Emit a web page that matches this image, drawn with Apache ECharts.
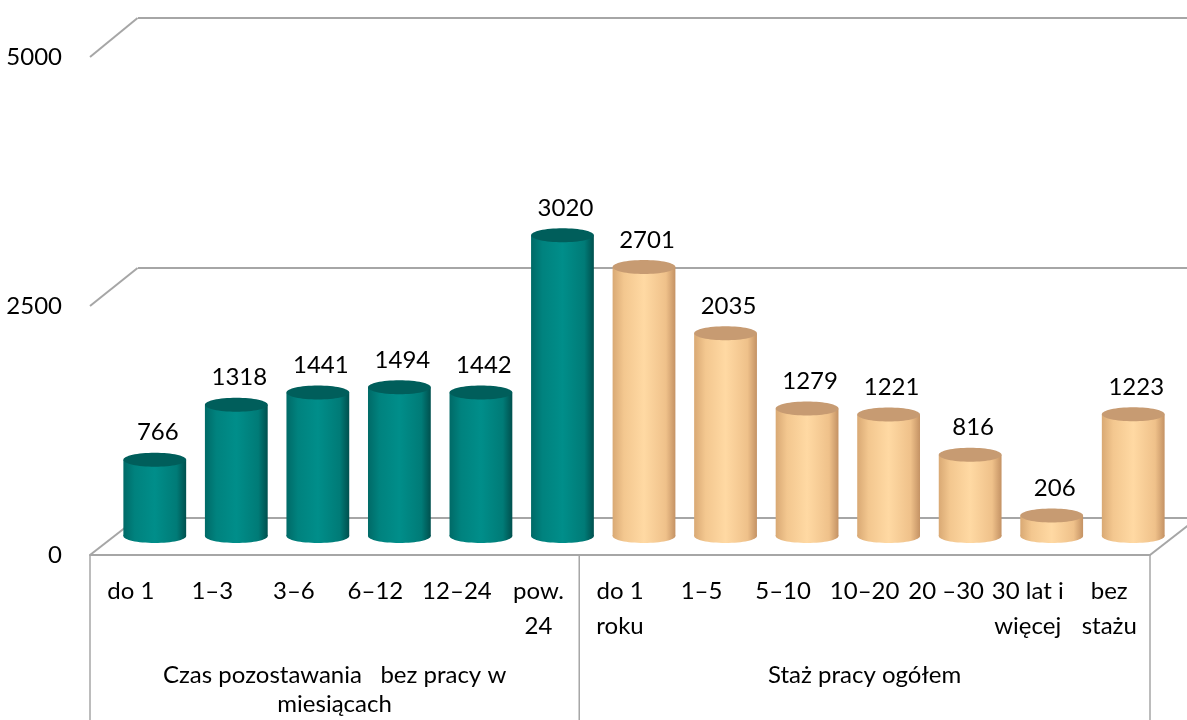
<!DOCTYPE html>
<html>
<head>
<meta charset="utf-8">
<script src="https://cdn.jsdelivr.net/npm/echarts@6/dist/echarts.min.js"></script>
<style>
  html, body { margin: 0; padding: 0; background: #fff; }
  #chart { width: 1187px; height: 720px; }
</style>
</head>
<body>
<div id="chart"></div>
<script>
// kategorie i wartosci
var waitCats = ['do 1', '1–3', '3–6', '6–12', '12–24', 'pow.\n24'];
var waitValues = [766, 1318, 1441, 1494, 1442, 3020];
var expCats = ['do 1\nroku', '1–5', '5–10', '10–20', '20 –30', '30 lat i\nwięcej', 'bez\nstażu'];
var expValues = [2701, 2035, 1279, 1221, 816, 206, 1223];
var groupNames = ['Czas pozostawania   bez pracy w\nmiesiącach', 'Staż pracy ogółem'];
var yTicks = [0, 2500, 5000];

var allCats = waitCats.concat(expCats);
var FONT = 'Lato, "Noto Sans", sans-serif';
var FS = 24;
var LINE = '#a6a6a6';

var teal = {
	stops: [
		{ offset: 0, color: '#006a67' },
		{ offset: 0.18, color: '#00827e' },
		{ offset: 0.5, color: '#008e8a' },
		{ offset: 0.85, color: '#007b77' },
		{ offset: 1, color: '#00504e' }
	],
	top: '#005e5b'
};
var peach = {
	stops: [
		{ offset: 0, color: '#d9a974' },
		{ offset: 0.18, color: '#f3c78f' },
		{ offset: 0.5, color: '#ffd9a3' },
		{ offset: 0.85, color: '#efc18a' },
		{ offset: 1, color: '#c49264' }
	],
	top: '#c79b72'
};

// walec rysowany przez skale osi
function cylinder(colors) {
	return function (params, api) {
		var x = api.value(0), v = api.value(1);
		var top = api.coord([x, v]);
		var base = api.coord([x, 0]);
		var bw = api.size([1, 0])[0] * 0.77;
		var rx = bw / 2, ry = 7;
		var grad = new echarts.graphic.LinearGradient(0, 0, 1, 0, colors.stops);
		return {
			type: 'group',
			children: [
				{ type: 'ellipse', shape: { cx: base[0], cy: base[1], rx: rx, ry: ry }, style: { fill: grad } },
				{ type: 'rect', shape: { x: top[0] - rx, y: top[1], width: bw, height: base[1] - top[1] }, style: { fill: grad } },
				{ type: 'ellipse', shape: { cx: top[0], cy: top[1], rx: rx, ry: ry }, style: { fill: colors.top } },
				{
					type: 'text',
					style: {
						text: String(v), x: top[0] + 3, y: top[1] - ry - 8,
						align: 'center', verticalAlign: 'bottom',
						font: FS + 'px ' + FONT, fill: '#000'
					}
				}
			]
		};
	};
}

var chart = echarts.init(document.getElementById('chart'));

var option = {
	backgroundColor: '#fff',
	animation: false,
	grid: [
		{ left: 114, top: 38, width: 1060, height: 498 },  // srodek glebokosci - walce
		{ left: 90, top: 57, width: 1060, height: 498 },   // przod
		{ left: 138, top: 18, width: 1060, height: 500 }   // tylna sciana
	],
	xAxis: [
		{ type: 'category', gridIndex: 0, data: allCats, show: false },
		{
			type: 'category', gridIndex: 1, data: allCats,
			axisLine: { lineStyle: { color: LINE, width: 2 } },
			axisTick: { show: false },
			axisLabel: {
				interval: 0, margin: 19, fontSize: FS, lineHeight: 35,
				fontFamily: FONT, color: '#000', verticalAlign: 'top'
			}
		},
		{ type: 'category', gridIndex: 2, data: allCats, show: false }
	],
	yAxis: [
		{ type: 'value', gridIndex: 0, min: 0, max: 5000, show: false },
		{
			type: 'value', gridIndex: 1, min: 0, max: 5000, interval: 2500,
			axisLine: { show: false }, axisTick: { show: false }, splitLine: { show: false },
			axisLabel: {
				margin: 28, fontSize: FS, fontFamily: FONT, color: '#000',
				formatter: function (v) { return String(v); }
			}
		},
		{
			type: 'value', gridIndex: 2, min: 0, max: 5000, interval: 2500,
			axisLine: { show: false }, axisTick: { show: false }, axisLabel: { show: false },
			splitLine: { lineStyle: { color: LINE, width: 2 } }
		}
	],
	series: [
		{
			type: 'custom', xAxisIndex: 0, yAxisIndex: 0,
			data: waitValues.map(function (v, i) { return [i, v]; }),
			renderItem: cylinder(teal)
		},
		{
			type: 'custom', xAxisIndex: 0, yAxisIndex: 0,
			data: expValues.map(function (v, i) { return [i + waitCats.length, v]; }),
			renderItem: cylinder(peach)
		}
	]
};
chart.setOption(option);

// linie perspektywy i tabela pod osia
var fx0 = chart.convertToPixel({ xAxisIndex: 1 }, 0);
var band = chart.convertToPixel({ xAxisIndex: 1 }, 1) - fx0;
var bx0 = chart.convertToPixel({ xAxisIndex: 2 }, 0);
var frontLeft = fx0 - band / 2;
var backLeft = bx0 - band / 2;
var frontRight = frontLeft + band * allCats.length;
var backRight = backLeft + band * allCats.length;
var floorY = chart.convertToPixel({ yAxisIndex: 1 }, 0);
var backFloorY = chart.convertToPixel({ yAxisIndex: 2 }, 0);

var elems = [];
yTicks.forEach(function (v) {
	elems.push({
		type: 'line', silent: true,
		shape: {
			x1: frontLeft, y1: chart.convertToPixel({ yAxisIndex: 1 }, v),
			x2: backLeft, y2: chart.convertToPixel({ yAxisIndex: 2 }, v)
		},
		style: { stroke: LINE, lineWidth: 2 }
	});
});
elems.push({
	type: 'line', silent: true,
	shape: { x1: frontRight, y1: floorY, x2: backRight, y2: backFloorY },
	style: { stroke: LINE, lineWidth: 2 }
});
[0, waitCats.length, allCats.length].forEach(function (k) {
	var x = frontLeft + band * k;
	elems.push({
		type: 'line', silent: true,
		shape: { x1: x, y1: floorY, x2: x, y2: 720 },
		style: { stroke: LINE, lineWidth: 1.5 }
	});
});
var bounds = [[0, waitCats.length], [waitCats.length, allCats.length]];
bounds.forEach(function (b, i) {
	elems.push({
		type: 'text', silent: true,
		x: frontLeft + band * (b[0] + b[1]) / 2, y: 661,
		style: {
			text: groupNames[i], align: 'center', verticalAlign: 'top',
			font: FS + 'px ' + FONT, lineHeight: 29, fill: '#000'
		}
	});
});
chart.setOption({ graphic: elems });
</script>
</body>
</html>
